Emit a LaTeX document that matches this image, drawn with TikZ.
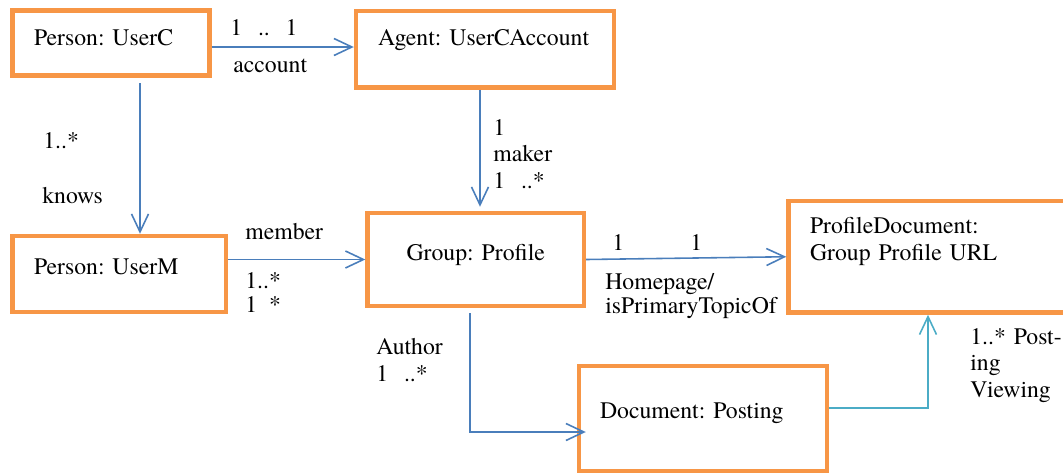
\documentclass[tikz,border=0pt]{standalone}
\usepackage{fontspec}
\setmainfont{TeX Gyre Termes}
\usetikzlibrary{arrows.meta}
\definecolor{boxorange}{HTML}{F79646}
\definecolor{linkblue}{HTML}{4A7EBB}
\definecolor{linkteal}{HTML}{4BACC6}

\begin{document}
\frenchspacing
\begin{tikzpicture}[x=0.02cm, y=-0.02cm,
  every node/.style={font=\fontsize{13.5}{15.2}\selectfont},
  umlbox/.style={draw=boxorange, line width=0.09cm, inner ysep=0pt, inner xsep=0.43cm, align=left},
  link/.style={draw=linkblue, line width=0.9pt, -{Straight Barb[length=3.6mm,width=3.4mm]}},
  lbl/.style={anchor=base west, inner sep=0pt, align=left, text width=3.6cm}
  ]
  \path[use as bounding box] (0,0) rectangle (1063,474);
  \clip (0,0) rectangle (1063,474);

  \node[umlbox, text width=3.08cm, text height=0.69cm, text depth=0.61cm] (userc) at (111,43) {\mbox{Person: UserC}};
  \node[umlbox, inner xsep=0.44cm, text width=4.28cm, text height=0.68cm, text depth=0.85cm] (agent) at (485,49.25) {\mbox{Agent: UserCAccount}};
  \node[umlbox, text width=3.41cm, text height=0.76cm, text depth=0.76cm] (userm) at (119.25,274) {\mbox{Person: UserM}};
  \node[umlbox, inner xsep=0.2cm, align=center, text width=3.93cm, text height=0.94cm, text depth=0.92cm] (group) at (475.75,259.5) {\mbox{Group: Profile}};
  \node[umlbox, font=\fontsize{13.5}{15.9}\selectfont, text width=4.87cm, text height=0.64cm, text depth=1.59cm] (profile) at (931.75,256.75) {ProfileDocument:\\\mbox{Group Profile URL}};
  \node[umlbox, inner xsep=0.42cm, text width=4.12cm, text height=1.04cm, text depth=1.06cm] (posting) at (703,418.5) {\mbox{Document: Posting}};

  \draw[link] (userc.east |- 0,47) -- (agent.west |- 0,47);
  \draw[link, shorten <=0.11cm] (userc.south -| 140,0) -- (userm.north -| 140,0);
  \draw[link, shorten >=0.08cm] (agent.south -| 480,0) -- (group.north -| 480,0);
  \draw[link] (userm.east |- group.west) -- (group.west);
  \draw[link] (group.east) -- (profile.west);
  \draw[link, shorten <=0.1cm, shorten >=-0.18cm] (group.south -| 470,0) |- (posting.west |- 0,432);
  \draw[link, draw=linkteal] (posting.east |- 0,408) -| (profile.south -| 928,0);

  \node[lbl] (acc-mult) at (230,35) {1\ \ ..\ \ 1};
  \node[lbl] (acc-name) at (233,72) {account};
  \node[lbl] (knows-mult) at (43,148) {1..*};
  \node[lbl] (knows-name) at (42,203) {knows};
  \node[lbl] (maker-name) at (493,135) {1\\maker\\1\ \ ..*};
  \node[lbl] (member-name) at (245,239) {member};
  \node[lbl, font=\fontsize{13.5}{14.2}\selectfont] (member-mult) at (245,288) {1..*\\1\hphantom{..}*};
  \node[lbl] (home-mult-a) at (612,250) {1};
  \node[lbl] (home-mult-b) at (690,250) {1};
  \node[lbl, font=\fontsize{13.5}{13.7}\selectfont] (home-name) at (605,289) {Homepage/\\isPrimaryTopicOf};
  \node[lbl, font=\fontsize{13.5}{15.9}\selectfont] (author-name) at (376,354) {Author\\1\ \ ..*};
  \node[lbl] (view-name) at (970,344) {1..* Post-\\ing\\Viewing};
\end{tikzpicture}
\end{document}
